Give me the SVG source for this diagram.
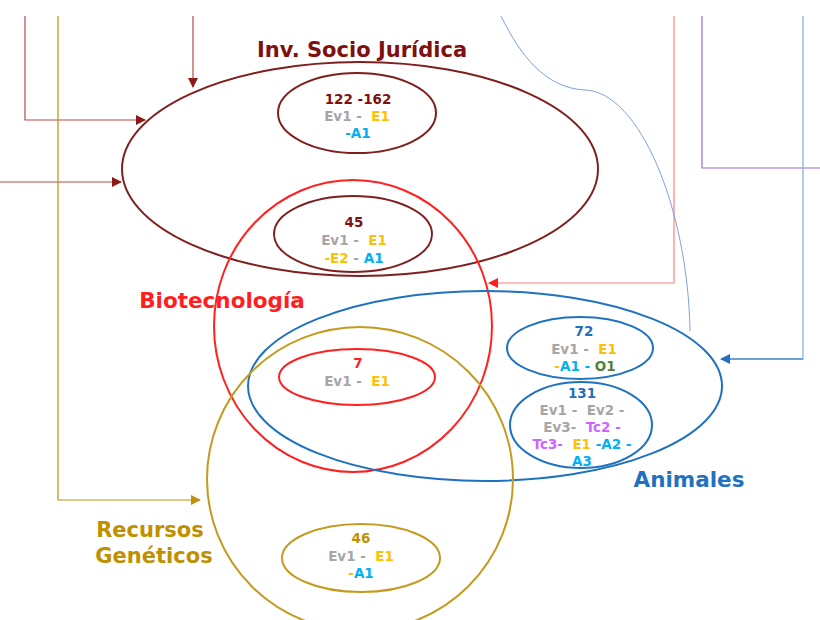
<svg xmlns="http://www.w3.org/2000/svg" width="820" height="620" viewBox="0 0 820 620">
<defs>
<marker id="aBr" viewBox="0 0 10 10" refX="9" refY="5" markerWidth="11" markerHeight="10" markerUnits="userSpaceOnUse" orient="auto"><path d="M0,0L10,5L0,10z" fill="#8b1a1a"/></marker>
<marker id="aRd" viewBox="0 0 10 10" refX="9" refY="5" markerWidth="11" markerHeight="10" markerUnits="userSpaceOnUse" orient="auto"><path d="M0,0L10,5L0,10z" fill="#ff1f1f"/></marker>
<marker id="aBl" viewBox="0 0 10 10" refX="9" refY="5" markerWidth="11" markerHeight="10" markerUnits="userSpaceOnUse" orient="auto"><path d="M0,0L10,5L0,10z" fill="#1f6fbf"/></marker>
<marker id="aGd" viewBox="0 0 10 10" refX="9" refY="5" markerWidth="11" markerHeight="10" markerUnits="userSpaceOnUse" orient="auto"><path d="M0,0L10,5L0,10z" fill="#c09010"/></marker>
</defs>
<style>
text{font-family:"DejaVu Sans","Liberation Sans",sans-serif;font-weight:bold;text-anchor:middle;white-space:pre}
.t{font-size:13.5px}
.g{fill:#a6a6a6}.y{fill:#ffc000}.c{fill:#00b0f0}.o{fill:#548235}.p{fill:#cc66ff}
.big{fill:none;stroke-width:2}
.sm{fill:none;stroke-width:2}
.ln{fill:none;stroke-width:1.2}
</style>
<rect width="820" height="620" fill="#fff"/>
<g id="connectors">
<path class="ln" d="M25,16V120H145" stroke="#b84848" marker-end="url(#aBr)"/>
<path class="ln" d="M193,16V87" stroke="#b84848" marker-end="url(#aBr)"/>
<path class="ln" d="M0,182H121" stroke="#b84848" marker-end="url(#aBr)"/>
<path class="ln" d="M58,16V500H200" stroke="#c09010" marker-end="url(#aGd)"/>
<path class="ln" d="M674,16V283H489" stroke="#ff8080" marker-end="url(#aRd)"/>
<path class="ln" d="M702,16V168H820" stroke="#9b6fcf"/>
<path class="ln" d="M803,16V359H721" stroke="#7fb0e0" marker-end="url(#aBl)"/>
<path d="M803,359H730" stroke="#1f6fbf" stroke-width="1.2" fill="none"/>
<path d="M501,16C520,55 545,88 585,90C640,92 688,210 690,331" fill="none" stroke="#7f9fdf" stroke-width="1"/>
</g>
<g id="socio">
<ellipse class="big" cx="360" cy="169" rx="238" ry="107" stroke="#7f1f1f"/>
<text x="362" y="57" fill="#7f1010" font-size="21">Inv. Socio Jurídica</text>
</g>
<g id="biotec">
<ellipse class="big" cx="353" cy="326" rx="139" ry="146" stroke="#ff2020"/>
<text x="222" y="308" fill="#ff1f1f" font-size="21.5">Biotecnología</text>
</g>
<g id="animales">
<ellipse class="big" cx="485" cy="386" rx="237" ry="95" stroke="#1f72bf"/>
<text x="689" y="487" fill="#1f72bf" font-size="21.5">Animales</text>
</g>
<g id="recursos">
<ellipse class="big" cx="360" cy="479" rx="153" ry="152" stroke="#c49a20"/>
<text x="150" y="537" fill="#bf9000" font-size="21">Recursos</text>
<text x="154" y="563" fill="#bf9000" font-size="21">Genéticos</text>
</g>
<g id="n122">
<ellipse class="sm" cx="357" cy="113" rx="79" ry="40" stroke="#7f1f1f"/>
<text class="t" x="358" y="104" fill="#7f1010">122 -162</text>
<text class="t" x="357" y="121"><tspan class="g">Ev1 -  </tspan><tspan class="y">E1</tspan></text>
<text class="t" x="358" y="138" fill="#00b0f0">-A1</text>
</g>
<g id="n45">
<ellipse class="sm" cx="353" cy="234" rx="79" ry="38" stroke="#7f1f1f"/>
<text class="t" x="354" y="227" fill="#7f1010">45</text>
<text class="t" x="354" y="245"><tspan class="g">Ev1 -  </tspan><tspan class="y">E1</tspan></text>
<text class="t" x="354" y="263"><tspan class="y">-E2</tspan><tspan class="g"> - </tspan><tspan class="c">A1</tspan></text>
</g>
<g id="n7">
<ellipse class="sm" cx="357" cy="377" rx="78" ry="28" stroke="#ff2020"/>
<text class="t" x="358" y="368" fill="#ff1f1f">7</text>
<text class="t" x="357" y="386"><tspan class="g">Ev1 -  </tspan><tspan class="y">E1</tspan></text>
</g>
<g id="n72">
<ellipse class="sm" cx="580" cy="348" rx="73" ry="31" stroke="#1f72bf"/>
<text class="t" x="584" y="336" fill="#1f6fbf">72</text>
<text class="t" x="584" y="354"><tspan class="g">Ev1 -  </tspan><tspan class="y">E1</tspan></text>
<text class="t" x="585" y="371"><tspan class="y">-</tspan><tspan class="c">A1 - </tspan><tspan class="o">O1</tspan></text>
</g>
<g id="n131">
<ellipse class="sm" cx="581" cy="425" rx="71" ry="43" stroke="#1f72bf"/>
<text class="t" x="582" y="398" fill="#1f6fbf">131</text>
<text class="t" x="582" y="415" fill="#a6a6a6">Ev1 -  Ev2 -</text>
<text class="t" x="582" y="432"><tspan class="g">Ev3-  </tspan><tspan class="p">Tc2 -</tspan></text>
<text class="t" x="582" y="449"><tspan class="p">Tc3-  </tspan><tspan class="y">E1 </tspan><tspan class="c">-A2 -</tspan></text>
<text class="t" x="582" y="466" fill="#00b0f0">A3</text>
</g>
<g id="n46">
<ellipse class="sm" cx="361" cy="558" rx="79" ry="34" stroke="#c49a20"/>
<text class="t" x="361" y="543" fill="#bf9000">46</text>
<text class="t" x="361" y="561"><tspan class="g">Ev1 -  </tspan><tspan class="y">E1</tspan></text>
<text class="t" x="361" y="578"><tspan class="y">-</tspan><tspan class="c">A1</tspan></text>
</g>
</svg>
